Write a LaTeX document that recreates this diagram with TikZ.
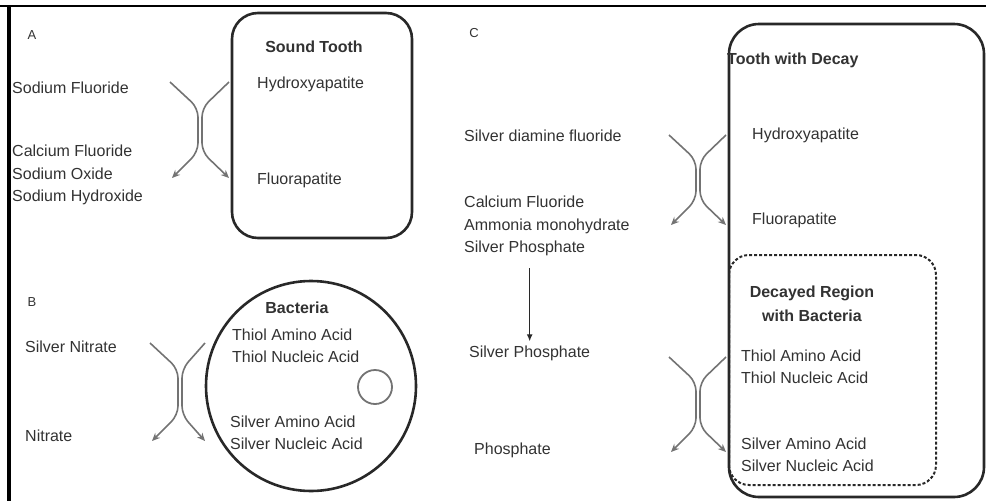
\documentclass[tikz,border=0pt]{standalone}
\usepackage{fontspec}
\setmainfont{Liberation Sans}
\usepackage{tikz}
\usetikzlibrary{arrows.meta, positioning, calc}
\definecolor{FigLine}{RGB}{40, 40, 40}
\definecolor{FigCurve}{RGB}{115, 115, 115}
\definecolor{FigText}{RGB}{50, 50, 50}
\tikzset{
  chem/.style={anchor=west, inner sep=0pt, align=left, text=FigText,
    font=\fontsize{16}{22.5}\selectfont},
  head/.style={inner sep=0pt, align=center, text=FigText,
    font=\fontsize{16}{24}\selectfont\bfseries},
  panel/.style={inner sep=0pt, text=FigText, font=\fontsize{13}{15}\selectfont},
  react/.style={draw=FigCurve, line width=1.6pt, rounded corners=9pt,
    -{Stealth[length=8pt,width=7pt]}},
  toothbox/.style={draw=FigLine, line width=2.6pt, rounded corners=26pt},
  decaybox/.style={draw=FigLine, line width=2pt, rounded corners=20pt,
    dash pattern=on 3pt off 2pt},
}

\begin{document}
\begin{tikzpicture}[x=1pt, y=-1pt]
  \useasboundingbox (0,0) rectangle (986,501);
  % frame
  \draw[line width=2.5pt, black] (0,6) -- (986,6);
  \draw[line width=3.5pt, black] (9,6) -- (9,501);

  % A: sound tooth
  \node[panel] (labA) at (32,35) {A};
  \node[chem] (naF) at (12,88) {Sodium Fluoride};
  \node[chem] (prodA) at (12,175) {Calcium Fluoride\\Sodium Oxide\\Sodium Hydroxide};
  \draw[toothbox] (232,13) rectangle (412,238);
  \node[head] (soundT) at (314,47) {Sound Tooth};
  \node[chem] (hapA) at (257,84) {Hydroxyapatite};
  \node[chem] (fapA) at (257,180) {Fluorapatite};
  \coordinate (aTL) at (170,82);
  \coordinate (aTR) at (229,82);
  \coordinate (aBL) at (172,178);
  \coordinate (aBR) at (229,178);
  \draw[react] (aTL) -- (198,108) -- (198,152) -- (aBL);
  \draw[react] (aTR) -- (202,108) -- (202,152) -- (aBR);

  % B: bacteria
  \node[panel] (labB) at (32,302) {B};
  \node[chem] (agNO) at (25,347) {Silver Nitrate};
  \node[chem] (nitr) at (25,436) {Nitrate};
  \draw[FigLine, line width=2.6pt] (311,386) circle (105);
  \draw[FigCurve, line width=1.8pt] (375,387) circle (17);
  \node[head] (bact) at (297,308) {Bacteria};
  \node[chem] (thiolB) at (232,346) {Thiol Amino Acid\\Thiol Nucleic Acid};
  \node[chem] (silvB) at (230,433) {Silver Amino Acid\\Silver Nucleic Acid};
  \coordinate (bTL) at (150,343);
  \coordinate (bTR) at (205,343);
  \coordinate (bBL) at (152,441);
  \coordinate (bBR) at (205,441);
  \draw[react] (bTL) -- (178,369) -- (178,415) -- (bBL);
  \draw[react] (bTR) -- (182,369) -- (182,415) -- (bBR);

  % C: tooth with decay
  \node[panel] (labC) at (474,33) {C};
  \node[chem] (sdf) at (464,136) {Silver diamine fluoride};
  \node[chem] (prodC) at (464,226) {Calcium Fluoride\\Ammonia monohydrate\\Silver Phosphate};
  \node[chem] (agP) at (469,353) {Silver Phosphate};
  \node[chem] (phos) at (474,450) {Phosphate};
  \draw[-{Latex[length=7pt,width=6pt]}, FigLine, line width=1.3pt]
    ([yshift=-12pt]prodC.south -| agP) -- ([yshift=4pt]agP.north);
  \draw[toothbox, rounded corners=30pt] (729,24) rectangle (984,497);
  \draw[decaybox] (729,255) rectangle (936,485);
  \node[head, anchor=west] (decayT) at (727,60) {Tooth with Decay};
  \node[chem] (hapC) at (752,135) {Hydroxyapatite};
  \node[chem] (fapC) at (752,220) {Fluorapatite};
  \node[head] (regT) at (812,304) {Decayed Region\\with Bacteria};
  \node[chem] (thiolC) at (741,367) {Thiol Amino Acid\\Thiol Nucleic Acid};
  \node[chem] (silvC) at (741,455) {Silver Amino Acid\\Silver Nucleic Acid};
  \coordinate (cTL) at (669,135);
  \coordinate (cTR) at (726,135);
  \coordinate (cBL) at (671,225);
  \coordinate (cBR) at (726,225);
  \draw[react] (cTL) -- (696,160) -- (696,200) -- (cBL);
  \draw[react] (cTR) -- (700,160) -- (700,200) -- (cBR);
  \coordinate (dTL) at (669,357);
  \coordinate (dTR) at (726,357);
  \coordinate (dBL) at (671,452);
  \coordinate (dBR) at (726,452);
  \draw[react] (dTL) -- (696,382) -- (696,427) -- (dBL);
  \draw[react] (dTR) -- (700,382) -- (700,427) -- (dBR);
\end{tikzpicture}
\end{document}
